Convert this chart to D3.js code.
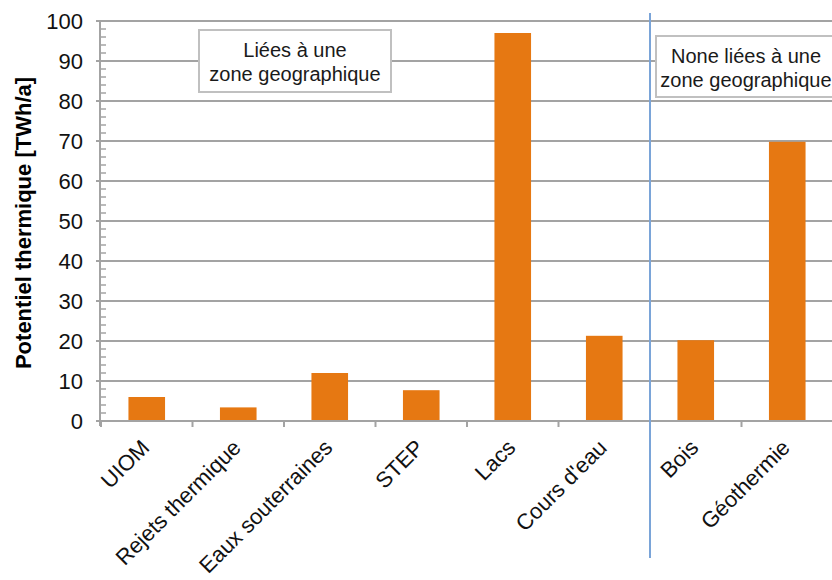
<!DOCTYPE html>
<html>
<head>
<meta charset="utf-8">
<script src="https://cdn.jsdelivr.net/npm/d3@7"></script>
<style>
  html, body { margin: 0; padding: 0; background: #fff; }
  svg { display: block; font-family: "Liberation Sans", Arial, sans-serif; }
</style>
</head>
<body>
<svg id="chart" width="832" height="580"></svg>
<script>
// Potentiel thermique par ressource [TWh/a]
const categories = ["UIOM", "Rejets thermique", "Eaux souterraines", "STEP", "Lacs", "Cours d'eau", "Bois", "Géothermie"];
const values = [6, 3.4, 12, 7.7, 97, 21.3, 20.2, 69.8];
const yTicks = [0, 10, 20, 30, 40, 50, 60, 70, 80, 90, 100];
const yTitle = "Potentiel thermique [TWh/a]";
const groupLinked = ["Liées à une", "zone geographique"];
const groupUnlinked = ["None liées à une", "zone geographique"];
// index of the first category that is not tied to a geographic zone
const splitIndex = 6;

const svg = d3.select("#chart");
const gridColor = "#a3a3a3";
const barColor = "#e67812";

const x = d3.scaleBand()
  .domain(categories)
  .range([101, 833])
  .paddingInner(0.6)
  .paddingOuter(0.3);

const y = d3.scaleLinear().domain([0, 100]).range([421, 21]);

// horizontal gridlines
svg.append("g")
  .selectAll("line")
  .data(yTicks.filter(d => d > 0))
  .join("line")
  .attr("x1", 96).attr("x2", 832)
  .attr("y1", d => y(d)).attr("y2", d => y(d))
  .attr("stroke", gridColor).attr("stroke-width", 2);

// minor ticks on the y axis
const minor = d3.range(0, 101, 2).filter(d => d % 10 !== 0);
svg.append("g")
  .selectAll("line")
  .data(minor)
  .join("line")
  .attr("x1", 100).attr("x2", 106)
  .attr("y1", d => y(d)).attr("y2", d => y(d))
  .attr("stroke", gridColor).attr("stroke-width", 1.5);

// y axis line
svg.append("line")
  .attr("x1", 100).attr("x2", 100)
  .attr("y1", y(100)).attr("y2", y(0) + 5)
  .attr("stroke", gridColor).attr("stroke-width", 2);

// bars
svg.append("g")
  .selectAll("rect")
  .data(categories.map((c, i) => ({ c, v: values[i] })))
  .join("rect")
  .attr("x", d => x(d.c))
  .attr("width", x.bandwidth())
  .attr("y", d => y(d.v))
  .attr("height", d => y(0) - y(d.v))
  .attr("fill", barColor);

// x axis baseline and category ticks
svg.append("line")
  .attr("x1", 96).attr("x2", 832)
  .attr("y1", y(0)).attr("y2", y(0))
  .attr("stroke", gridColor).attr("stroke-width", 2);

const step = x.step();
const edges = categories.map(c => x(c) - x.paddingOuter() * step);
svg.append("g")
  .selectAll("line")
  .data(edges)
  .join("line")
  .attr("x1", d => d).attr("x2", d => d)
  .attr("y1", y(0)).attr("y2", y(0) + 6)
  .attr("stroke", gridColor).attr("stroke-width", 2);

// y tick labels
svg.append("g")
  .selectAll("text")
  .data(yTicks)
  .join("text")
  .attr("x", 83)
  .attr("y", d => y(d))
  .attr("dy", "0.36em")
  .attr("text-anchor", "end")
  .attr("font-size", 22)
  .attr("fill", "#111")
  .text(d => d);

// category labels, rotated
svg.append("g")
  .selectAll("text")
  .data(categories)
  .join("text")
  .attr("text-anchor", "end")
  .attr("font-size", 22)
  .attr("fill", "#111")
  .attr("transform", d => `translate(${x(d) + x.bandwidth() / 2 + 4},${y(0) + 28}) rotate(-45)`)
  .text(d => d);

// y axis title
svg.append("text")
  .attr("transform", `translate(23,223) rotate(-90)`)
  .attr("text-anchor", "middle")
  .attr("dominant-baseline", "central")
  .attr("font-size", 22)
  .attr("font-weight", "bold")
  .attr("fill", "#000")
  .text(yTitle);

// separator between the two groups
const sepX = edges[splitIndex];
svg.append("line")
  .attr("x1", sepX).attr("x2", sepX)
  .attr("y1", 13).attr("y2", 558)
  .attr("stroke", "#7aa4d8").attr("stroke-width", 2);

// group captions
function caption(cx, top, w, h, lines) {
  const g = svg.append("g");
  g.append("rect")
    .attr("x", cx - w / 2).attr("y", top)
    .attr("width", w).attr("height", h)
    .attr("fill", "#fff")
    .attr("stroke", "#c0c0c0").attr("stroke-width", 2);
  g.selectAll("text")
    .data(lines)
    .join("text")
    .attr("x", cx)
    .attr("y", (d, i) => top + 27 + i * 24)
    .attr("text-anchor", "middle")
    .attr("font-size", 20)
    .attr("fill", "#1a1a1a")
    .text(d => d);
}
caption(295, 30, 192, 62, groupLinked);
caption(746, 36, 180, 61, groupUnlinked);
</script>
</body>
</html>
